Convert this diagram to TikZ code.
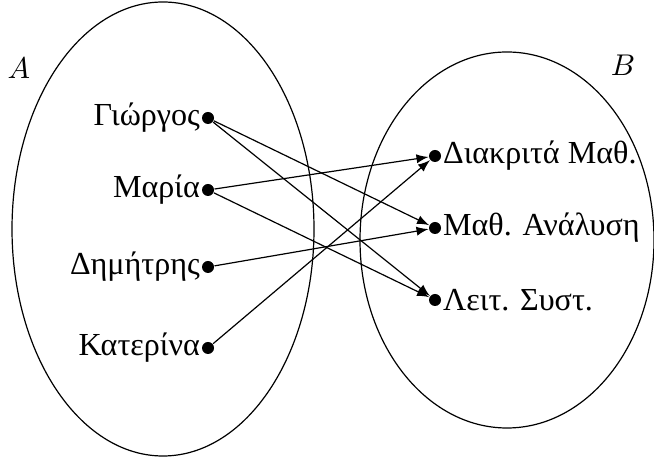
\documentclass[tikz,border=0pt]{standalone}
\usepackage{fontspec}
\setmainfont{Liberation Serif}
\usetikzlibrary{arrows}
\usetikzlibrary{positioning}

\tikzset{dot/.style={circle, fill=black, inner sep=0pt, minimum size=4pt}}
\tikzset{tag/.style={inner sep=0.3pt, font=\fontsize{10.7}{13}\selectfont}}

\begin{document}
\begin{tikzpicture}[x=0.3333pt,y=0.3333pt]%

\def\xa{208} %x of the left dots
\def\xb{435} %x of the right dots

\useasboundingbox (0,0) rectangle (654,459);

%sets
\draw (163,230) ellipse (151 and 227);
\draw (507,219) ellipse (147 and 188);
\node at (19,391) {$A$};
\node at (623,394) {$B$};

%students
\node[dot] (giorgos) at (\xa,341) {};
\node[dot] (maria) at (\xa,269) {};
\node[dot] (dimitris) at (\xa,192) {};
\node[dot] (katerina) at (\xa,111) {};
\node[tag, left=0pt of giorgos] {Γιώργος};
\node[tag, left=0pt of maria] {Μαρία};
\node[tag, left=0pt of dimitris] {Δημήτρης};
\node[tag, left=0pt of katerina] {Κατερίνα};

%courses
\node[dot] (diakrita) at (\xb,303) {};
\node[dot] (analysi) at (\xb,231) {};
\node[dot] (leitourgika) at (\xb,159) {};
\node[tag, right=0pt of diakrita] {Διακριτά Μαθ.};
\node[tag, right=0pt of analysi] {Μαθ. Ανάλυση};
\node[tag, right=0pt of leitourgika] {Λειτ. Συστ.};

%relation
\draw[-latex] (giorgos) -- (analysi);
\draw[-latex] (giorgos) -- (leitourgika);
\draw[-latex] (maria) -- (diakrita);
\draw[-latex] (maria) -- (leitourgika);
\draw[-latex] (dimitris) -- (analysi);
\draw[-latex] (katerina) -- (diakrita);

\end{tikzpicture}
\end{document}
